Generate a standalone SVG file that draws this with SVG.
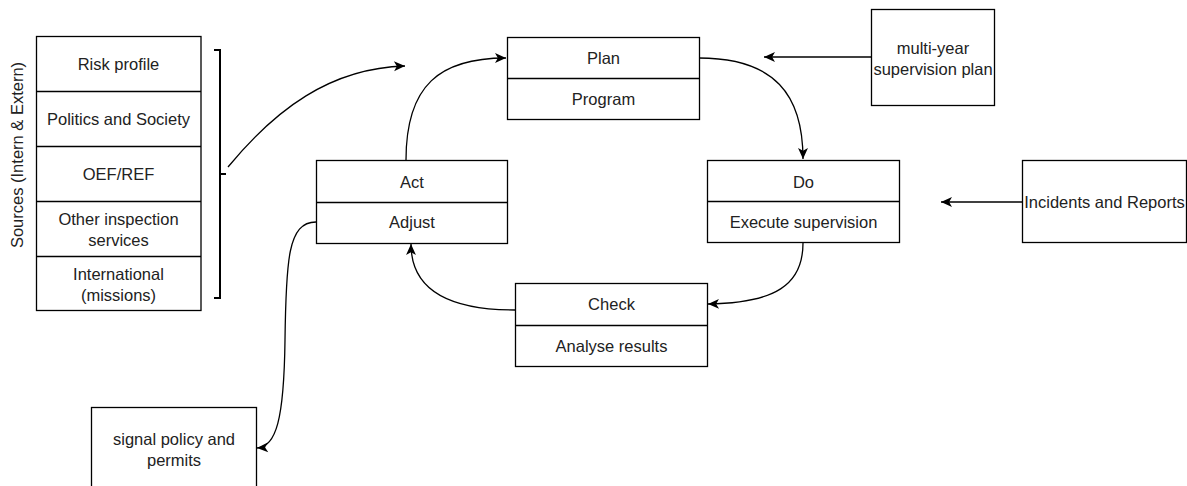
<svg xmlns="http://www.w3.org/2000/svg" width="1187" height="486" viewBox="0 0 1187 486">
  <style>
    .box { fill: #ffffff; stroke: #000000; stroke-width: 1.3; }
    .div { stroke: #000000; stroke-width: 1.3; fill: none; }
    .lbl { font-family: "Liberation Sans", Arial, sans-serif; font-size: 16.5px; fill: #222222; text-anchor: middle; dominant-baseline: central; }
    .edge { fill: none; stroke: #000000; stroke-width: 1.3; marker-end: url(#arrow); }
    .brk { fill: none; stroke: #000000; stroke-width: 2; }
  </style>
  <defs>
    <marker id="arrow" viewBox="0 0 10 10" refX="10" refY="5" markerWidth="12" markerHeight="11" markerUnits="userSpaceOnUse" orient="auto">
      <path d="M0,0.5 L10,5 L0,9.5 L2.6,5 Z" fill="#000000"/>
    </marker>
  </defs>
  <rect width="1187" height="486" fill="#ffffff"/>

  <!-- Sources stack -->
  <g id="sources">
    <text class="lbl" transform="translate(17,155) rotate(-90)">Sources (Intern &amp; Extern)</text>
    <rect class="box" x="36.5" y="36.5" width="164.5" height="274"/>
    <line class="div" x1="36.5" y1="91.5" x2="201" y2="91.5"/>
    <line class="div" x1="36.5" y1="146.5" x2="201" y2="146.5"/>
    <line class="div" x1="36.5" y1="201.5" x2="201" y2="201.5"/>
    <line class="div" x1="36.5" y1="256.5" x2="201" y2="256.5"/>
    <text class="lbl" x="118.5" y="64">Risk profile</text>
    <text class="lbl" x="118.5" y="119">Politics and Society</text>
    <text class="lbl" x="118.5" y="174">OEF/REF</text>
    <text class="lbl" x="118.5" y="219">Other inspection</text>
    <text class="lbl" x="118.5" y="240">services</text>
    <text class="lbl" x="118.5" y="274">International</text>
    <text class="lbl" x="118.5" y="295">(missions)</text>
  </g>

  <!-- Bracket grouping the sources -->
  <g id="bracket">
    <path class="brk" d="M214,50 L220,50 L220,298 L214,298 M220,174 L226,174"/>
  </g>

  <!-- PDCA nodes -->
  <g id="plan">
    <rect class="box" x="507.5" y="37.5" width="192" height="82"/>
    <line class="div" x1="507.5" y1="78.5" x2="699.5" y2="78.5"/>
    <text class="lbl" x="603.5" y="58">Plan</text>
    <text class="lbl" x="603.5" y="99">Program</text>
  </g>
  <g id="do">
    <rect class="box" x="707.5" y="160.5" width="192" height="82"/>
    <line class="div" x1="707.5" y1="201.5" x2="899.5" y2="201.5"/>
    <text class="lbl" x="803.5" y="182">Do</text>
    <text class="lbl" x="803.5" y="222">Execute supervision</text>
  </g>
  <g id="check">
    <rect class="box" x="515.5" y="283.5" width="192" height="83"/>
    <line class="div" x1="515.5" y1="325.5" x2="707.5" y2="325.5"/>
    <text class="lbl" x="611.5" y="304">Check</text>
    <text class="lbl" x="611.5" y="346">Analyse results</text>
  </g>
  <g id="act">
    <rect class="box" x="316.5" y="160.5" width="191" height="83"/>
    <line class="div" x1="316.5" y1="202.5" x2="507.5" y2="202.5"/>
    <text class="lbl" x="412" y="182">Act</text>
    <text class="lbl" x="412" y="222">Adjust</text>
  </g>

  <!-- External inputs / outputs -->
  <g id="multiyear">
    <rect class="box" x="871.5" y="9.5" width="123" height="96"/>
    <text class="lbl" x="933" y="48">multi-year</text>
    <text class="lbl" x="933" y="69">supervision plan</text>
  </g>
  <g id="incidents">
    <rect class="box" x="1022.5" y="160.5" width="164" height="82"/>
    <text class="lbl" x="1104.5" y="202">Incidents and Reports</text>
  </g>
  <g id="signal">
    <rect class="box" x="91.5" y="407.5" width="165" height="90"/>
    <text class="lbl" x="174" y="439">signal policy and</text>
    <text class="lbl" x="174" y="460">permits</text>
  </g>

  <!-- Connectors -->
  <g id="connectors">
    <path class="edge" d="M228,167 C275,110 330,68 405,66"/>
    <path class="edge" d="M406,160 C406,85 440,58 506,58"/>
    <path class="edge" d="M871,57 L764,57"/>
    <path class="edge" d="M699,58 C775,58 803,95 803,159"/>
    <path class="edge" d="M803,243 C803,285 775,303 708,304"/>
    <path class="edge" d="M515,310 C450,310 411,290 411,244"/>
    <path class="edge" d="M1022,202 L941,202"/>
    <path class="edge" d="M316,222 C288,222 286,260 285,340 C284,420 276,447 257,448"/>
  </g>
</svg>
